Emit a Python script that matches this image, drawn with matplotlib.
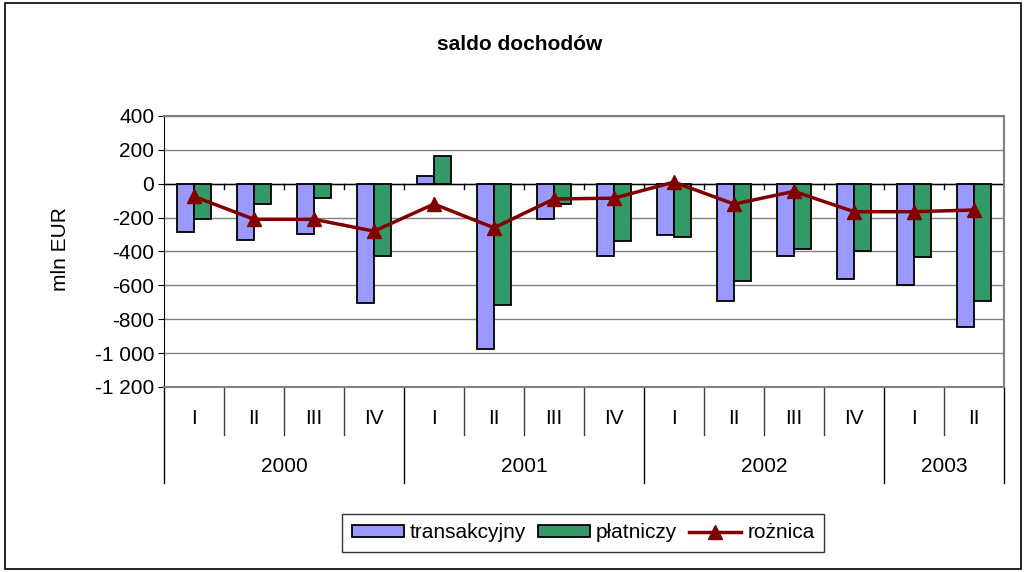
import numpy as np
import matplotlib.pyplot as plt
from matplotlib.patches import Rectangle

plt.rcParams['font.family'] = ['Liberation Sans', 'DejaVu Sans']

# data (mln EUR)
quarters = ['I', 'II', 'III', 'IV', 'I', 'II', 'III', 'IV', 'I', 'II', 'III', 'IV', 'I', 'II']
years = ['2000', '2001', '2002', '2003']
year_counts = [4, 4, 4, 2]
transakcyjny = [-285, -330, -295, -705, 45, -975, -210, -425, -305, -695, -425, -565, -600, -845]
platniczy = [-210, -120, -85, -425, 165, -715, -120, -340, -315, -575, -385, -400, -435, -690]
roznica = [-75, -210, -210, -280, -120, -260, -90, -85, 10, -120, -45, -165, -165, -155]

FS = 15

fig = plt.figure(figsize=(10.26, 5.72), dpi=100)
ax = fig.add_axes([164 / 1026, 1 - 387 / 572, 840 / 1026, 271 / 572])

x = np.arange(len(quarters))
w = 0.29
b1 = ax.bar(x - w / 2, transakcyjny, w, color='#9999FF', edgecolor='black', linewidth=1.3,
            label='transakcyjny', zorder=3)
b2 = ax.bar(x + w / 2, platniczy, w, color='#339966', edgecolor='black', linewidth=1.3,
            label='płatniczy', zorder=3)
l1, = ax.plot(x, roznica, color='#800000', linewidth=2.5, marker='^', markersize=10,
              label='rożnica', zorder=4)

ax.set_xlim(-0.5, len(quarters) - 0.5)
ax.set_ylim(-1200, 400)
yt = np.arange(-1200, 401, 200)
ax.set_yticks(yt)
ax.set_yticklabels([f'{v:,}'.replace(',', ' ') for v in yt], fontsize=FS)
ax.tick_params(axis='y', length=4, color='black', pad=3)
ax.set_xticks([])
ax.yaxis.grid(True, color='#808080', linewidth=1)
ax.set_axisbelow(True)
for s in ['top', 'right', 'bottom']:
    ax.spines[s].set_color('#808080')
    ax.spines[s].set_linewidth(1.5)
ax.spines['left'].set_color('black')

# zero line with small ticks at category boundaries
ax.axhline(0, color='black', linewidth=1, zorder=2)
for b in np.arange(0.5, len(quarters) - 0.5):
    ax.plot([b, b], [0, -30], color='black', linewidth=1, zorder=2)

# multi-level category axis below the plot
tr = ax.get_xaxis_transform()
q_bot = -48 / 271
y_bot = -96 / 271
for i, q in enumerate(quarters):
    ax.text(i, -32 / 271, q, transform=tr, ha='center', va='center', fontsize=FS)
bounds = np.cumsum([0] + year_counts) - 0.5
for b in np.arange(-0.5, len(quarters)):
    if b in bounds:
        ax.plot([b, b], [0, y_bot], transform=tr, color='black', linewidth=1, clip_on=False)
    else:
        ax.plot([b, b], [0, q_bot], transform=tr, color='#404040', linewidth=1, clip_on=False)
for k, yr in enumerate(years):
    c = (bounds[k] + bounds[k + 1]) / 2
    ax.text(c, -80 / 271, yr, transform=tr, ha='center', va='center', fontsize=FS)

fig.text(60 / 1026, 1 - 249 / 572, 'mln EUR', rotation=90, ha='center', va='center', fontsize=FS)
fig.text(520 / 1026, 1 - 45 / 572, 'saldo dochodów', ha='center', va='center',
         fontsize=FS, fontweight='bold')

leg = fig.legend([b1, b2, l1], ['transakcyjny', 'płatniczy', 'rożnica'],
                 loc='center', bbox_to_anchor=(583 / 1026, 1 - 533 / 572), ncol=3,
                 fontsize=FS, frameon=True, fancybox=False, edgecolor='black',
                 handlelength=2.5, handleheight=0.5, handletextpad=0.3,
                 columnspacing=0.55, borderpad=0.45)
leg.get_frame().set_linewidth(1)

fig.patches.append(Rectangle((0.005, 0.005), 0.99, 0.99, transform=fig.transFigure,
                             fill=False, edgecolor='black', linewidth=1.2))

fig.savefig('out.png', dpi=100)
